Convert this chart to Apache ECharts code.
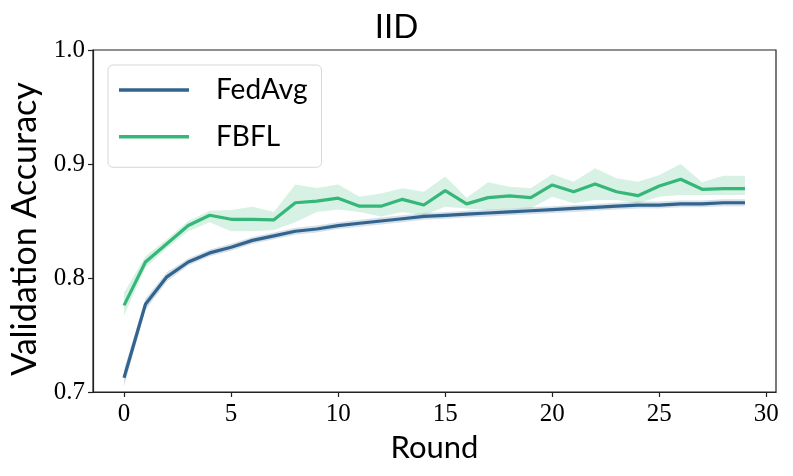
<!DOCTYPE html>
<html>
<head>
<meta charset="utf-8">
<script src="https://cdn.jsdelivr.net/npm/echarts@6/dist/echarts.min.js"></script>
<style>html,body{margin:0;padding:0;background:#fff}#c{width:793px;height:476px}</style>
</head>
<body>
<div id="c"></div>
<script>
const rounds = [0,1,2,3,4,5,6,7,8,9,10,11,12,13,14,15,16,17,18,19,20,21,22,23,24,25,26,27,28,29];
const xTicks = [0,5,10,15,20,25,30];
const yTicks = [0.7,0.8,0.9,1.0];

const fedAvg      = [0.7125,0.777,0.801,0.814,0.822,0.827,0.833,0.837,0.841,0.843,0.846,0.848,0.850,0.852,0.854,0.855,0.856,0.857,0.858,0.859,0.860,0.861,0.862,0.863,0.864,0.864,0.865,0.865,0.866,0.866];
const fedAvgLower = [0.705,0.772,0.797,0.811,0.819,0.824,0.830,0.834,0.838,0.840,0.843,0.845,0.847,0.849,0.851,0.852,0.853,0.854,0.855,0.856,0.857,0.858,0.859,0.860,0.861,0.861,0.862,0.862,0.863,0.863];
const fedAvgUpper = [0.720,0.782,0.805,0.817,0.825,0.830,0.836,0.840,0.844,0.846,0.849,0.851,0.853,0.855,0.857,0.858,0.859,0.860,0.861,0.862,0.863,0.864,0.865,0.866,0.867,0.867,0.868,0.868,0.869,0.869];

const fbfl      = [0.776,0.814,0.830,0.846,0.855,0.8515,0.8515,0.851,0.866,0.8675,0.870,0.863,0.863,0.869,0.864,0.8766,0.865,0.8705,0.872,0.8705,0.8816,0.8757,0.8825,0.8757,0.8722,0.8807,0.8866,0.8778,0.8784,0.8784];
const fbflLower = [0.767,0.809,0.826,0.841,0.849,0.841,0.841,0.842,0.849,0.858,0.860,0.858,0.854,0.858,0.855,0.8625,0.861,0.8596,0.861,0.861,0.8713,0.8655,0.8684,0.8684,0.8655,0.8713,0.8728,0.8728,0.8728,0.8728];
const fbflUpper = [0.787,0.819,0.834,0.850,0.859,0.8596,0.8625,0.858,0.882,0.879,0.882,0.8713,0.8742,0.8787,0.8757,0.889,0.8705,0.884,0.880,0.8787,0.891,0.8845,0.8962,0.8875,0.8845,0.8904,0.900,0.884,0.8897,0.8897];

const blue = '#32648e';
const green = '#35b779';

function pairs(vals){ return rounds.map((r,i)=>[r, vals[i]]); }

function band(name, lo, up, color){
  const rows = rounds.map((r,i)=>[r, lo[i], up[i]]);
  return {
    name: name, type:'custom', silent:true, z:1,
    data: rows,
    encode:{x:0, y:[1,2]},
    renderItem: function(params, api){
      if (params.dataIndex !== 0) return null;
      const top = rows.map(d => api.coord([d[0], d[2]]));
      const bot = rows.map(d => api.coord([d[0], d[1]])).reverse();
      return {type:'polygon', shape:{points: top.concat(bot)}, style:{fill: color}};
    }
  };
}

const chart = echarts.init(document.getElementById('c'));
chart.setOption({
  animation:false,
  backgroundColor:'#fff',
  title:{text:'IID', left:'center', top:6, textStyle:{fontFamily:'Lato', fontSize:33, fontWeight:'normal', color:'#000'}},
  grid:{left:91, right:17, top:50, bottom:84, show:true, borderColor:'#222', borderWidth:1.2, backgroundColor:'transparent'},
  legend:{
    data:['FedAvg','FBFL'], left:108, top:65, orient:'vertical',
    icon:'rect', itemWidth:70, itemHeight:3.5, itemGap:16.7,
    padding:[10,14,15.6,11],
    backgroundColor:'rgba(255,255,255,0.85)', borderColor:'#d6d6d6', borderWidth:1, borderRadius:5,
    textStyle:{fontFamily:'Lato', fontSize:28, lineHeight:30, color:'#000', padding:[0,0,0,22]}
  },
  xAxis:{
    type:'value', min:-1.45, max:30.45,
    name:'Round', nameLocation:'middle', nameGap:40,
    nameTextStyle:{fontFamily:'Lato', fontSize:31, color:'#000'},
    axisLine:{show:true, onZero:false, lineStyle:{color:'#222', width:1.2}},
    axisTick:{show:true, length:5, customValues:xTicks, lineStyle:{color:'#222', width:1.2}},
    axisLabel:{customValues:xTicks, margin:10, fontFamily:'Liberation Serif', fontSize:25, color:'#000'},
    splitLine:{show:false}
  },
  yAxis:{
    type:'value', min:0.7, max:1.0, interval:0.1,
    name:'Validation Accuracy', nameLocation:'middle', nameGap:51,
    nameTextStyle:{fontFamily:'Lato', fontSize:34, color:'#000', padding:[0,16,0,0]},
    axisLine:{show:true, onZero:false, lineStyle:{color:'#222', width:1.2}},
    axisTick:{show:true, length:5, lineStyle:{color:'#222', width:1.2}},
    axisLabel:{margin:8, fontFamily:'Liberation Serif', fontSize:25, color:'#000', formatter:v=>v.toFixed(1)},
    splitLine:{show:false}
  },
  series:[
    band('fa', fedAvgLower, fedAvgUpper, 'rgba(50,100,142,0.2)'),
    band('fb', fbflLower, fbflUpper, 'rgba(53,183,121,0.2)'),
    {name:'FedAvg', type:'line', data:pairs(fedAvg), symbol:'none', color:blue, lineStyle:{color:blue, width:3.2}, z:3},
    {name:'FBFL', type:'line', data:pairs(fbfl), symbol:'none', color:green, lineStyle:{color:green, width:3.2}, z:3}
  ]
});
</script>
</body>
</html>
